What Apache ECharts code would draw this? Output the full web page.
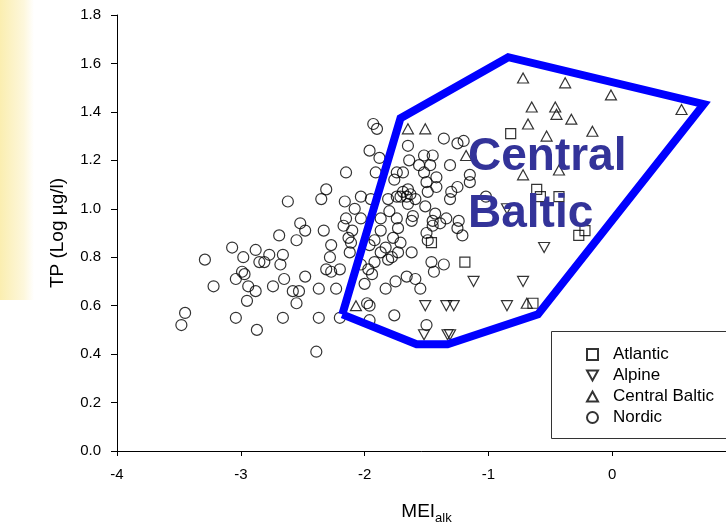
<!DOCTYPE html>
<html>
<head>
<meta charset="utf-8">
<script src="https://cdn.jsdelivr.net/npm/echarts@6/dist/echarts.min.js"></script>
<style>
html,body{margin:0;padding:0;background:#fff;overflow:hidden;}
#chart{width:726px;height:527px;}
</style>
</head>
<body>
<div id="chart"></div>
<script>
// ---- data (MEI_alk, log TP) ----
const atlantic = [[-0.82,1.31],[-0.61,1.08],[-0.58,1.05],[-0.43,1.05],[-0.27,0.89],[-0.22,0.91],[-0.64,0.61],[-1.19,0.78],[-1.46,0.86]];
const alpine = [[-0.85,1.00],[-0.55,0.84],[-0.72,0.70],[-0.85,0.60],[-1.12,0.70],[-1.51,0.60],[-1.34,0.60],[-1.28,0.60],[-1.52,0.48],[-1.33,0.48],[-1.31,0.48]];
const centralBaltic = [[-0.72,1.54],[-0.38,1.52],[-0.01,1.47],[0.56,1.41],[-0.65,1.42],[-0.46,1.42],[-0.45,1.39],[-0.33,1.37],[-0.68,1.35],[-0.53,1.30],[-0.16,1.32],[-0.43,1.16],[-0.72,1.14],[-0.69,0.61],[-1.65,1.33],[-1.51,1.33],[-1.18,1.22],[-2.07,0.60]];
const nordic = [
[-2.15,1.15],[-2.31,1.08],[-2.35,1.04],[-2.62,1.03],[-2.16,1.03],[-2.03,1.05],[-2.08,1.00],[-2.15,0.96],[-2.03,0.96],[-2.17,0.93],
[-2.10,0.91],[-2.52,0.94],[-2.48,0.91],[-2.55,0.87],[-2.33,0.91],[-2.69,0.89],[-2.13,0.88],[-2.11,0.86],[-2.27,0.85],[-3.07,0.84],
[-2.88,0.83],[-2.98,0.80],[-2.77,0.81],[-2.66,0.81],[-2.85,0.78],[-2.81,0.78],[-2.68,0.77],[-3.29,0.79],[-2.28,0.80],[-2.12,0.82],
[-2.31,0.75],[-2.27,0.74],[-2.20,0.75],[-2.99,0.74],[-2.97,0.73],[-3.04,0.71],[-2.65,0.71],[-2.48,0.72],[-3.22,0.68],[-2.74,0.68],
[-2.94,0.68],[-2.88,0.66],[-2.58,0.66],[-2.53,0.66],[-2.37,0.67],[-2.23,0.67],[-2.95,0.62],[-2.55,0.61],[-3.45,0.57],[-3.48,0.52],
[-3.04,0.55],[-2.87,0.50],[-2.66,0.55],[-2.37,0.55],[-2.20,0.55],[-1.98,0.61],[-2.39,0.41],
[-1.93,1.35],[-1.90,1.33],[-1.96,1.24],[-1.88,1.21],[-1.91,1.15],[-1.76,1.12],[-1.95,1.04],[-1.81,1.04],[-1.74,1.05],[-1.87,0.96],
[-1.80,0.99],[-1.74,0.96],[-1.96,0.60],[-2.00,0.69],[-1.83,0.67],[-1.75,0.70],[-1.76,0.56],[-1.96,0.54],[-2.03,0.77],[-1.97,0.75],
[-1.94,0.73],[-1.87,0.91],[-1.96,0.85],[-1.83,0.84],[-1.81,0.79],
[-1.65,1.26],[-1.36,1.29],[-1.25,1.27],[-1.20,1.28],[-1.64,1.20],[-1.52,1.22],[-1.45,1.22],[-1.56,1.18],[-1.52,1.15],[-1.47,1.18],
[-1.42,1.13],[-1.31,1.18],[-1.15,1.14],[-1.69,1.15],[-1.50,1.11],[-1.42,1.09],[-1.49,1.07],[-1.65,1.08],[-1.63,1.06],[-1.66,1.05],
[-1.71,1.05],[-1.59,1.04],[-1.65,1.02],[-1.30,1.07],[-1.25,1.09],[-1.15,1.11],[-1.02,1.05],[-1.51,1.01],[-1.43,0.98],[-1.34,0.96],
[-1.45,0.95],[-1.45,0.93],[-1.25,0.92],[-1.21,0.89],[-1.50,0.90],[-1.49,0.87],[-1.62,0.82],[-1.61,0.97],[-1.92,0.87],[-1.73,0.92],
[-1.77,0.88],[-1.71,0.86],[-1.87,0.82],[-1.92,0.78],[-1.66,0.72],[-1.59,0.71],[-1.55,0.67],[-1.46,0.78],[-1.36,0.77],[-1.44,0.74],
[-1.50,0.52],[-1.74,1.15],[-1.69,1.07],[-1.31,1.04],[-1.24,0.95],[-1.62,0.95],[-1.39,0.94],[-1.73,0.82],[-1.78,0.80]
];
// outline of the Central Baltic region
const regionOutline = [[-2.18,0.564],[-1.71,1.374],[-0.84,1.626],[0.74,1.432],[-0.60,0.564],[-1.33,0.441],[-1.58,0.441],[-2.18,0.564]];
const xTicks = [-4,-3,-2,-1,0,1];
const yRange = [0,1.8];
const legendNames = ['Atlantic','Alpine','Central Baltic','Nordic'];

const FONT = 'Liberation Sans, Arial, sans-serif';
const hollow = {color:'rgba(0,0,0,0)', borderColor:'#000', borderWidth:1.2};
const downTri = 'path://M0,0 L10,0 L5,9 Z';
const upTri = 'path://M5,0 L10,9 L0,9 Z';

const chart = echarts.init(document.getElementById('chart'));
chart.setOption({
  animation:false,
  backgroundColor:'#fff',
  grid:{left:117, top:15, right:-10, bottom:76, outerBoundsMode:'none', containLabel:false},
  xAxis:{type:'value', min:xTicks[0], max:xTicks[xTicks.length-1], interval:1,
    splitLine:{show:false},
    axisLine:{show:true, onZero:false, lineStyle:{color:'#000', width:1}},
    axisTick:{show:true, length:5, lineStyle:{color:'#000'}},
    axisLabel:{color:'#000', fontFamily:FONT, fontSize:15, margin:16, showMaxLabel:false,
      formatter:v=> v===1 ? '' : String(v)},
    name:'{a|MEI}{b|alk}', nameLocation:'middle', nameGap:48,
    nameTextStyle:{rich:{a:{fontFamily:FONT, fontSize:19, color:'#000', lineHeight:26, verticalAlign:'middle'},
                         b:{fontFamily:FONT, fontSize:13, color:'#000', verticalAlign:'bottom', lineHeight:26}}}
  },
  yAxis:{type:'value', min:yRange[0], max:yRange[1], interval:0.2,
    splitLine:{show:false},
    axisLine:{show:true, onZero:false, lineStyle:{color:'#000', width:1}},
    axisTick:{show:true, length:6, lineStyle:{color:'#000'}},
    axisLabel:{color:'#000', fontFamily:FONT, fontSize:15, margin:16, formatter:v=>v.toFixed(1)},
    name:'TP (Log µg/l)', nameLocation:'middle', nameGap:50,
    nameTextStyle:{fontFamily:FONT, fontSize:19, color:'#000'}
  },
  legend:{orient:'vertical', left:581, top:341, itemWidth:11, itemHeight:11, itemGap:4,
    textStyle:{fontFamily:FONT, fontSize:17, lineHeight:17, color:'#000', padding:[0,0,0,10]},
    data:[
      {name:legendNames[0], icon:'rect'},
      {name:legendNames[1], icon:downTri},
      {name:legendNames[2], icon:upTri},
      {name:legendNames[3], icon:'circle'}
    ], z:10},
  graphic:[
    {type:'rect', z:-10, shape:{x:0,y:0,width:34,height:300},
      style:{fill:new echarts.graphic.LinearGradient(0,0,1,0,[{offset:0,color:'#fbeeb0'},{offset:0.7,color:'#fdf7dc'},{offset:1,color:'#ffffff'}])}},
    {type:'rect', z:5, shape:{x:551.5,y:331.5,width:200,height:107}, style:{fill:'#fff', stroke:'#333', lineWidth:1}},
    {type:'text', z:6, left:468, top:134, style:{text:'Central', fontFamily:FONT, fontWeight:'bold', fontSize:46, fill:'#333399'}},
    {type:'text', z:6, left:468, top:191, style:{text:'Baltic', fontFamily:FONT, fontWeight:'bold', fontSize:46, fill:'#333399'}}
  ],
  series:[
    {name:legendNames[0], type:'scatter', symbol:'rect', symbolSize:10, data:atlantic, itemStyle:hollow, z:3},
    {name:legendNames[1], type:'scatter', symbol:downTri, symbolSize:[11,10], data:alpine, itemStyle:hollow, z:3},
    {name:legendNames[2], type:'scatter', symbol:upTri, symbolSize:[11,10], data:centralBaltic, itemStyle:hollow, z:3},
    {name:legendNames[3], type:'scatter', symbol:'circle', symbolSize:11, data:nordic, itemStyle:hollow, z:3},
    {name:'region', type:'line', data:regionOutline, showSymbol:false, symbol:'none', silent:true, z:4,
      lineStyle:{color:'#0000ff', width:8, join:'miter'}}
  ]
});
</script>
</body>
</html>
